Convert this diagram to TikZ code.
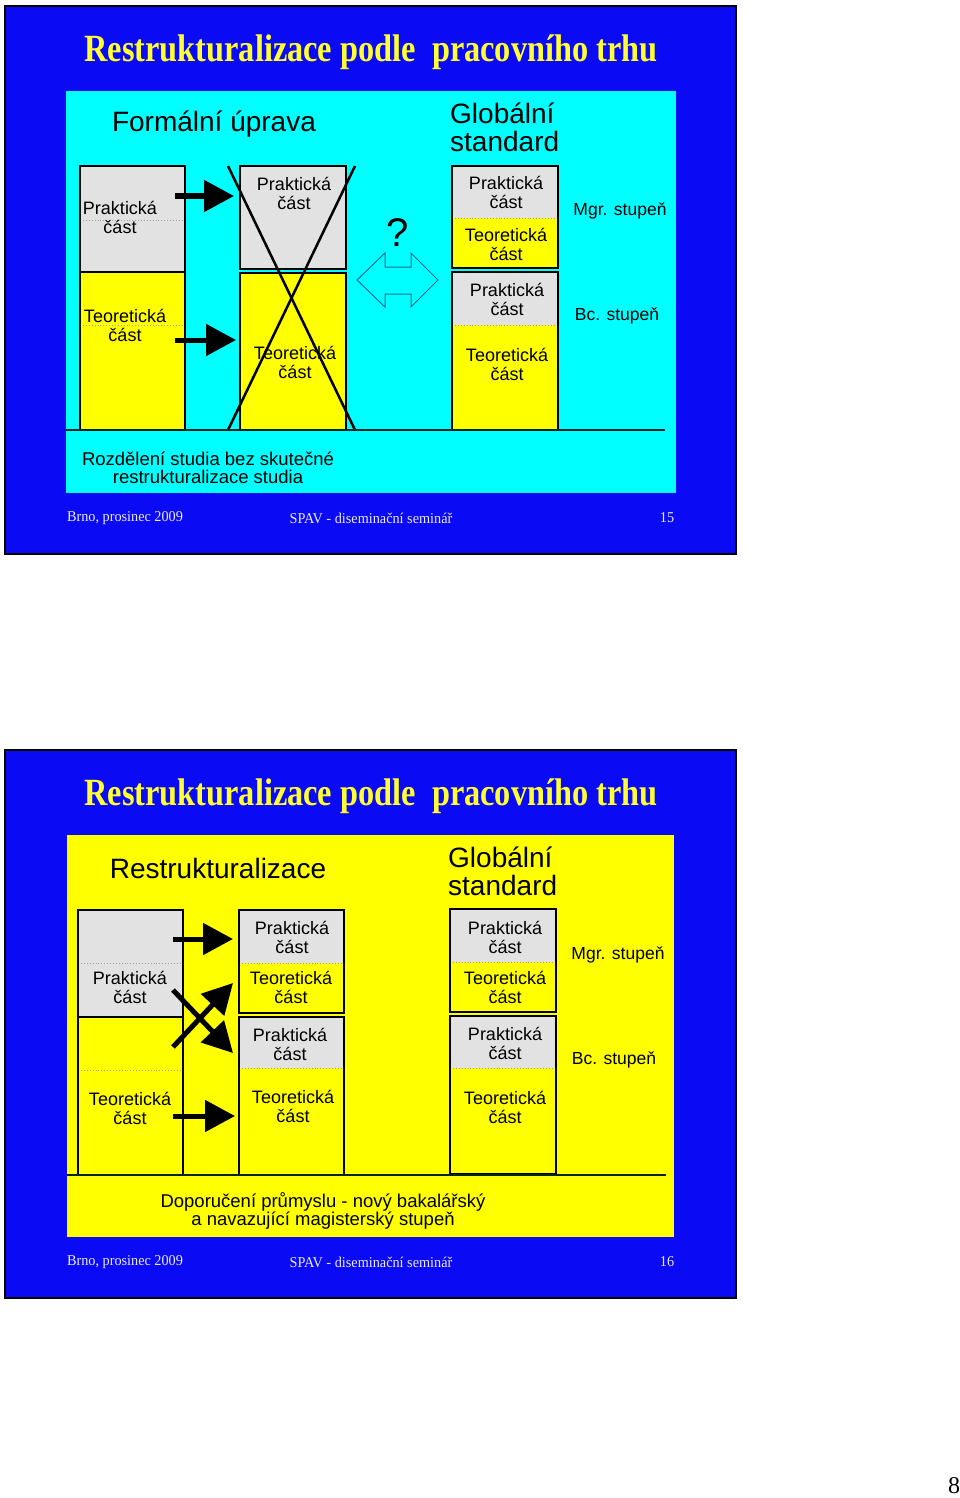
\documentclass[tikz,border=0pt]{standalone}
\usepackage{fontspec}
\setmainfont{Liberation Serif}
\newfontfamily\arialf{Liberation Sans}
\usetikzlibrary{arrows.meta}
\definecolor{slideblue}{RGB}{10,10,245}
\definecolor{panelcyan}{RGB}{0,255,255}
\definecolor{panelyellow}{RGB}{255,255,0}
\definecolor{boxgray}{RGB}{226,226,226}
\definecolor{titleyellow}{RGB}{255,255,50}
\definecolor{outlineteal}{RGB}{0,110,140}
\definecolor{footwhite}{RGB}{235,235,255}
\begin{document}
\begin{tikzpicture}[x=1pt,y=-1pt,
  slidebg/.style={fill=slideblue,draw=black,line width=1.5pt},
  graypart/.style={fill=boxgray},
  yellowpart/.style={fill=panelyellow},
  frame/.style={draw=black,line width=2.6pt},
  sepline/.style={draw=black,line width=2pt},
  dotsep/.style={draw=gray!75,line width=0.9pt,dotted},
  baseline/.style={draw=black!70!teal,line width=1.3pt},
  boxtxt/.style={font=\arialf\fontsize{18}{19}\selectfont,align=center,inner sep=0pt},
  headtxt/.style={font=\arialf\fontsize{28}{28}\selectfont,inner sep=0pt},
  degtxt/.style={font=\arialf\fontsize{17.5}{19}\selectfont,inner sep=0pt},
  notetxt/.style={font=\arialf\fontsize{18.5}{18.5}\selectfont,align=center,inner sep=0pt},
  titletxt/.style={font=\bfseries\fontsize{38.5}{38.5}\selectfont,text=titleyellow,inner sep=0pt,xscale=0.84},
  foottxt/.style={font=\fontsize{15}{15}\selectfont,text=footwhite,inner sep=0pt,xscale=0.95},
  bigarrow/.style={draw=black,line width=5pt,-{Triangle[length=30pt,width=31pt]},shorten >=0pt},
  crossline/.style={draw=black,line width=2.5pt}
]
\useasboundingbox (0,0) rectangle (960,1498);
\fill[white] (0,0) rectangle (960,1498);

%%%%%%%%%%%%%%%% SLIDE 1 %%%%%%%%%%%%%%%%
\path[slidebg] (5,6) rectangle (736,554);
\fill[panelcyan] (66,91) rectangle (676,493);
\node[titletxt] (t1) at (371,52) {Restrukturalizace podle\ \ pracovního trhu};

\node[headtxt] (form) at (214,124) {Formální úprava};
\node[headtxt,anchor=west,align=left] (glob1) at (450,127) {Globální\\standard};

% left box
\path[graypart] (80,166) rectangle (185,272);
\path[yellowpart] (80,272) rectangle (185,430);
\path[dotsep] (83,220) -- (182,220);
\path[dotsep] (83,325) -- (182,325);
\path[sepline] (80,272) -- (185,272);
\path[frame] (80,166) rectangle (185,430);
\node[boxtxt] (a1) at (120,217) {Praktická\\část};
\node[boxtxt] (a2) at (125,325) {Teoretická\\část};

% crossed boxes
\path[graypart] (240,166) rectangle (346,269);
\path[frame] (240,166) rectangle (346,269);
\path[yellowpart] (240,273) rectangle (346,430);
\path[frame] (240,273) rectangle (346,430);
\node[boxtxt] (b1) at (294,193) {Praktická\\část};
\node[boxtxt] (b2) at (295,362) {Teoretická\\část};
\coordinate (x1) at (228,166); \coordinate (x2) at (355,430);
\coordinate (x3) at (355,166); \coordinate (x4) at (228,430);
\path[crossline] (x1) -- (x2);
\path[crossline] (x3) -- (x4);

% arrows
\coordinate (s1) at (175,196); \coordinate (e1) at (234,196);
\coordinate (s2) at (175,340); \coordinate (e2) at (236,340);
\path[bigarrow] (s1) -- (e1);
\path[bigarrow] (s2) -- (e2);

% question and double arrow
\node[font=\arialf\fontsize{40}{40}\selectfont,inner sep=0pt] (q) at (398,233) {?};
\draw[outlineteal,line width=1pt,line join=miter] (357,280) -- (385,253) -- (385,267) -- (411,267) -- (411,253)
  -- (438,280) -- (411,307) -- (411,294) -- (385,294) -- (385,307) -- cycle;

% right column
\path[graypart] (452,166) rectangle (558,218);
\path[yellowpart] (452,218) rectangle (558,268);
\path[dotsep] (455,218) -- (555,218);
\path[frame] (452,166) rectangle (558,268);
\path[graypart] (452,272) rectangle (558,325);
\path[yellowpart] (452,325) rectangle (558,430);
\path[dotsep] (455,325) -- (555,325);
\path[frame] (452,272) rectangle (558,430);
\node[boxtxt] (c1) at (506,192) {Praktická\\část};
\node[boxtxt] (c2) at (506,244) {Teoretická\\část};
\node[boxtxt] (d1) at (507,299) {Praktická\\část};
\node[boxtxt] (d2) at (507,364) {Teoretická\\část};
\node[degtxt] (mgr1) at (620,211) {Mgr. stupeň};
\node[degtxt] (bc1) at (617,316) {Bc. stupeň};

\path[baseline] (66,430) -- (665,430);
\node[notetxt] (n1) at (208,468) {Rozdělení studia bez skutečné\\restrukturalizace studia};

\node[foottxt] (f1a) at (125,518) {Brno, prosinec 2009};
\node[foottxt] (f1b) at (371,518) {SPAV - diseminační seminář};
\node[foottxt] (f1c) at (667,518) {15};

%%%%%%%%%%%%%%%% SLIDE 2 %%%%%%%%%%%%%%%%
\path[slidebg] (5,750) rectangle (736,1298);
\fill[panelyellow] (67,835) rectangle (674,1237);
\node[titletxt] (t2) at (371,796) {Restrukturalizace podle\ \ pracovního trhu};

\node[headtxt] (restr) at (218,868) {Restrukturalizace};
\node[headtxt,anchor=west,align=left] (glob2) at (448,871) {Globální\\standard};

% left box
\path[graypart] (78,910) rectangle (183,1017);
\path[yellowpart] (78,1017) rectangle (183,1175);
\path[dotsep] (81,963) -- (180,963);
\path[dotsep] (81,1070) -- (180,1070);
\path[sepline] (78,1017) -- (183,1017);
\path[frame] (78,910) rectangle (183,1175);
\node[boxtxt] (g1) at (130,987) {Praktická\\část};
\node[boxtxt] (g2) at (130,1108) {Teoretická\\část};

% middle boxes
\path[graypart] (239,910) rectangle (344,963);
\path[yellowpart] (239,963) rectangle (344,1013);
\path[dotsep] (242,963) -- (341,963);
\path[frame] (239,910) rectangle (344,1013);
\path[graypart] (239,1017) rectangle (344,1068);
\path[yellowpart] (239,1068) rectangle (344,1175);
\path[dotsep] (242,1068) -- (341,1068);
\path[frame] (239,1017) rectangle (344,1175);
\node[boxtxt] (h1) at (292,937) {Praktická\\část};
\node[boxtxt] (h2) at (291,987) {Teoretická\\část};
\node[boxtxt] (h3) at (290,1044) {Praktická\\část};
\node[boxtxt] (h4) at (293,1106) {Teoretická\\část};

% arrows
\coordinate (u1) at (173,939); \coordinate (v1) at (233,939);
\coordinate (u2) at (173,1116); \coordinate (v2) at (235,1116);
\coordinate (u3) at (173,990); \coordinate (v3) at (233,1053);
\coordinate (u4) at (173,1047); \coordinate (v4) at (233,983);
\path[bigarrow] (u1) -- (v1);
\path[bigarrow] (u2) -- (v2);
\path[bigarrow] (u3) -- (v3);
\path[bigarrow] (u4) -- (v4);

% right column
\path[graypart] (450,909) rectangle (556,962);
\path[yellowpart] (450,962) rectangle (556,1012);
\path[dotsep] (453,962) -- (553,962);
\path[frame] (450,909) rectangle (556,1012);
\path[graypart] (450,1016) rectangle (556,1068);
\path[yellowpart] (450,1068) rectangle (556,1174);
\path[dotsep] (453,1068) -- (553,1068);
\path[frame] (450,1016) rectangle (556,1174);
\node[boxtxt] (k1) at (505,937) {Praktická\\část};
\node[boxtxt] (k2) at (505,987) {Teoretická\\část};
\node[boxtxt] (k3) at (505,1043) {Praktická\\část};
\node[boxtxt] (k4) at (505,1107) {Teoretická\\část};
\node[degtxt] (mgr2) at (618,955) {Mgr. stupeň};
\node[degtxt] (bc2) at (614,1060) {Bc. stupeň};

\path[baseline] (67,1175) -- (666,1175);
\node[notetxt] (n2) at (323,1211) {Doporučení průmyslu - nový bakalářský\\a navazující magisterský stupeň};

\node[foottxt] (f2a) at (125,1262) {Brno, prosinec 2009};
\node[foottxt] (f2b) at (371,1262) {SPAV - diseminační seminář};
\node[foottxt] (f2c) at (667,1262) {16};

\node[font=\fontsize{24}{24}\selectfont,inner sep=0pt] (pg) at (954,1486) {8};
\end{tikzpicture}
\end{document}
